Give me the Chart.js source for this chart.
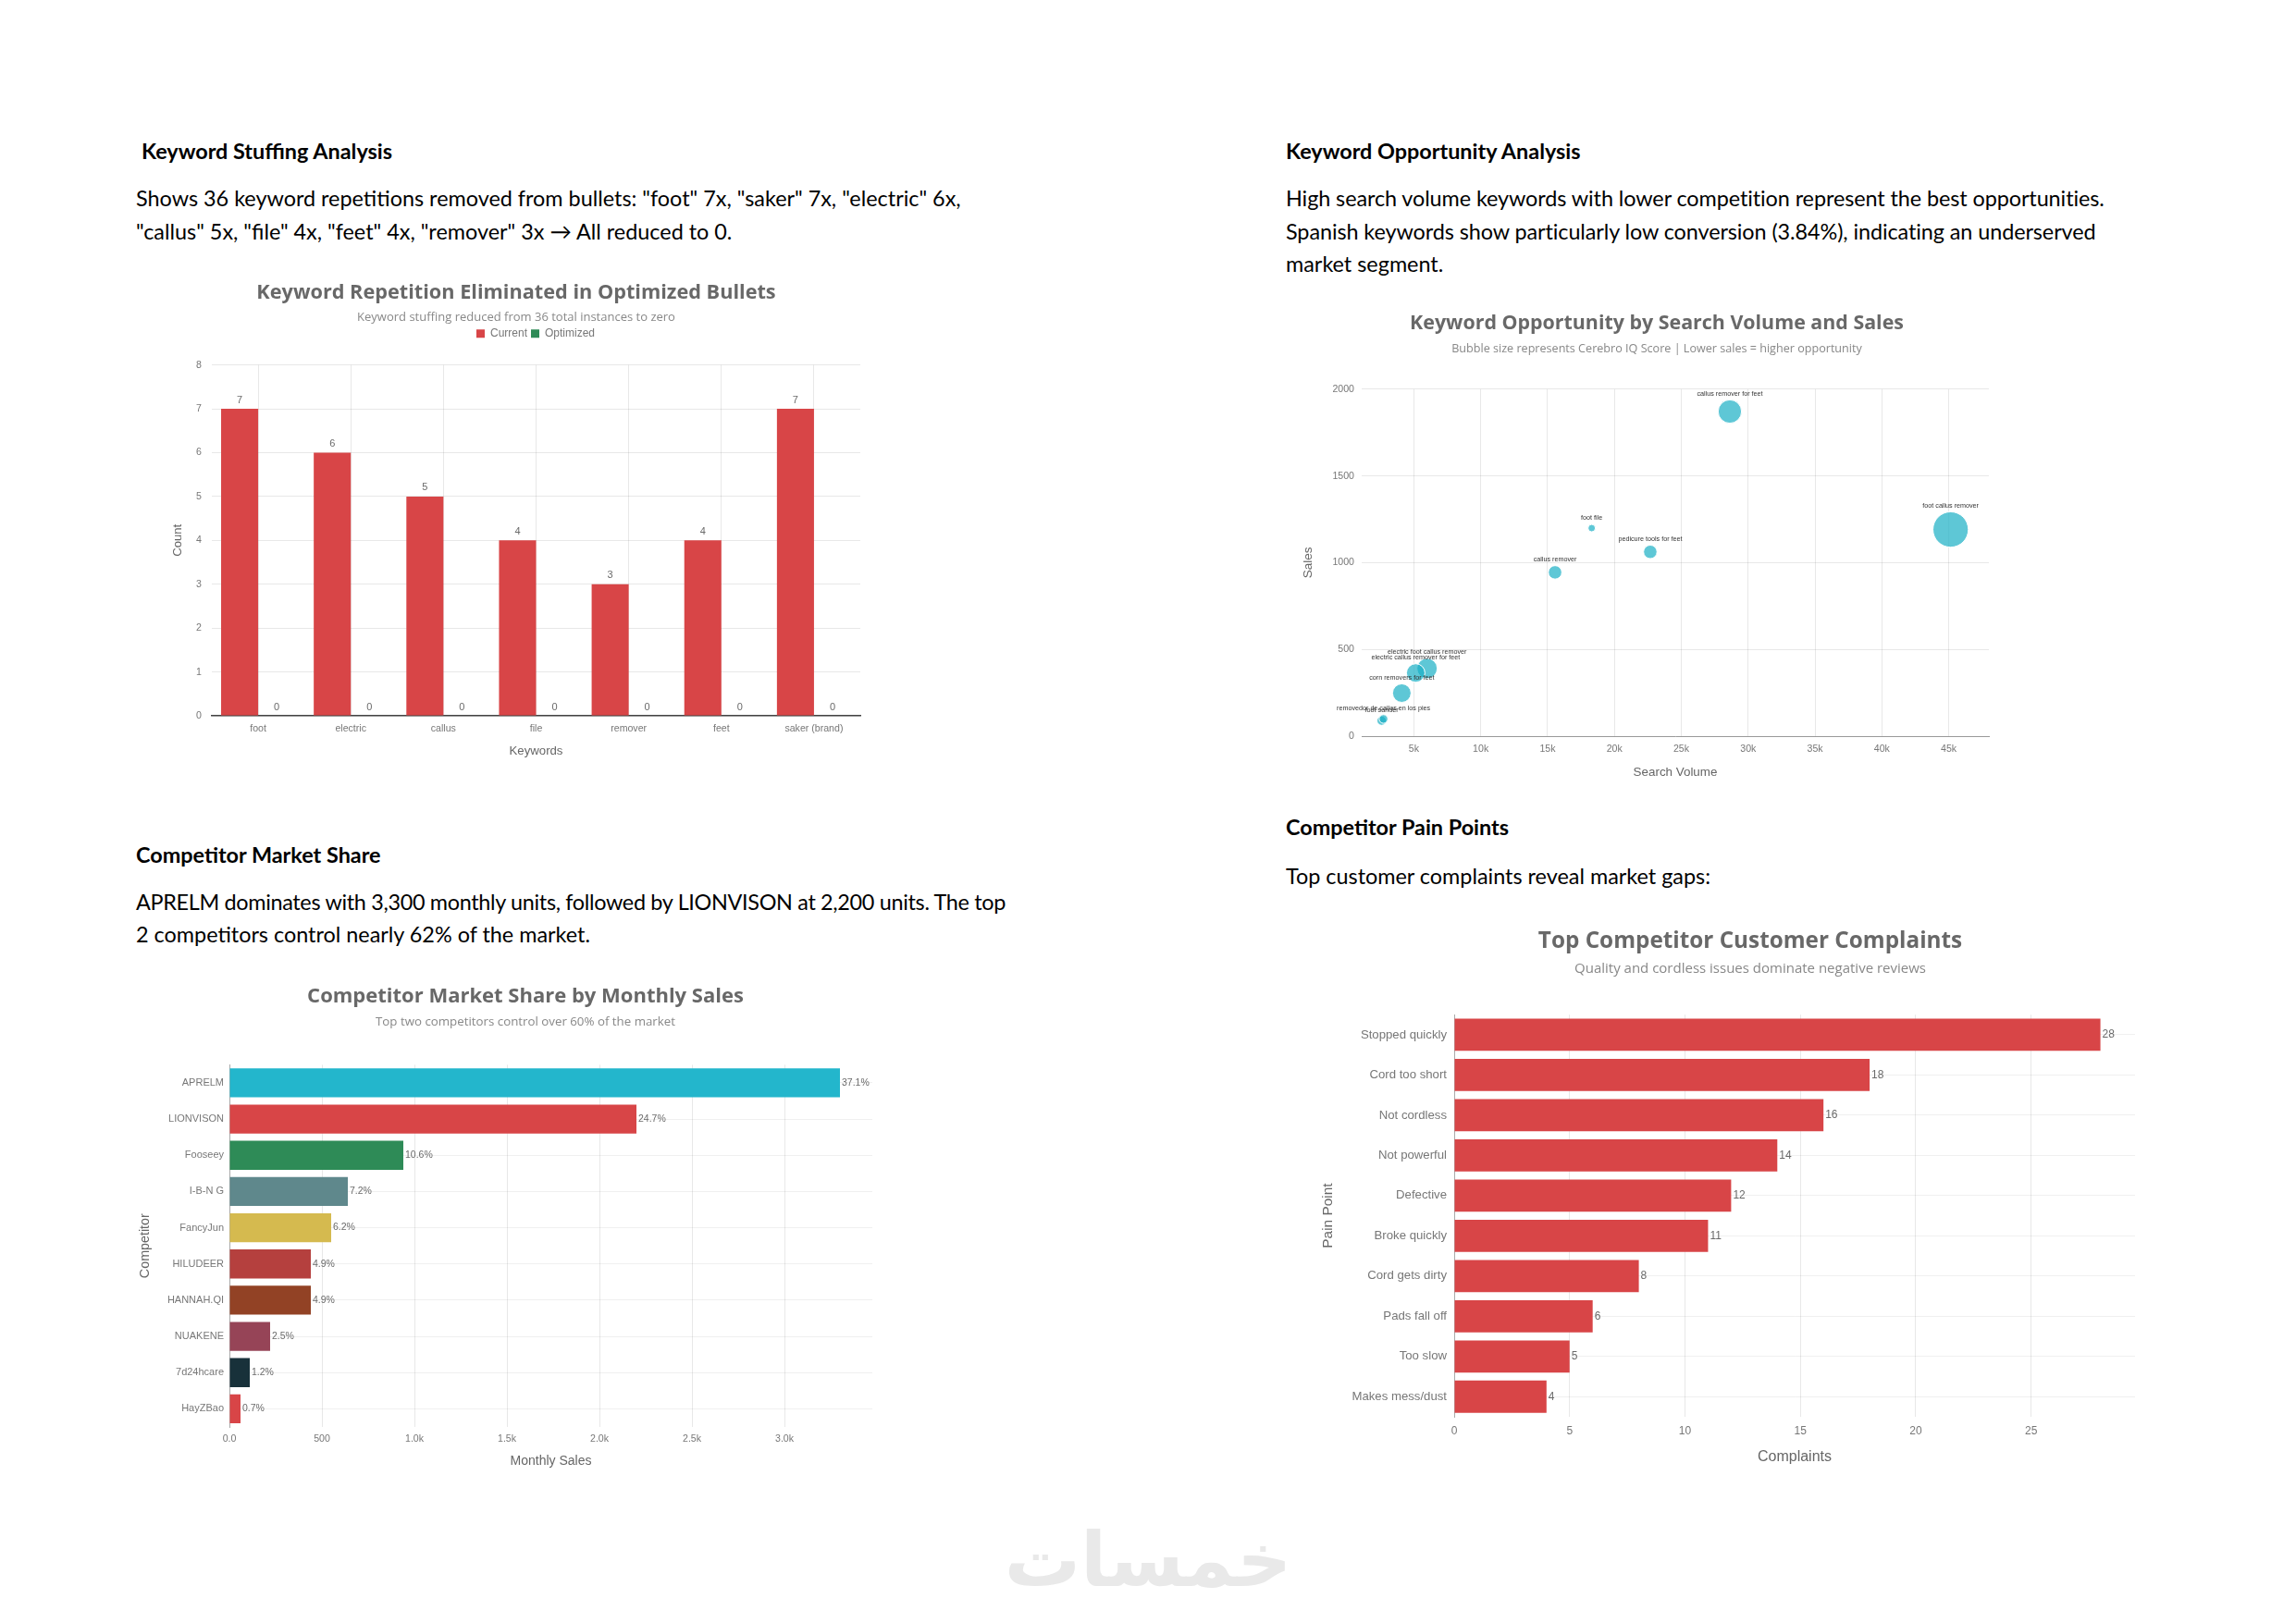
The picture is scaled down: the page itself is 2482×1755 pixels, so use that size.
<!DOCTYPE html>
<html>
<head>
<meta charset="utf-8">
<script src="https://cdn.jsdelivr.net/npm/chart.js@4.4.1/dist/chart.umd.min.js"></script>
<style>
  html, body { margin: 0; padding: 0; background: #fff; }
  body { width: 2482px; height: 1755px; position: relative; overflow: hidden; font-family: Lato, 'Noto Sans', sans-serif; color: #000; }
  .line { position: absolute; font-size: 23.4px; line-height: 36px; white-space: nowrap; }
  .h { font-weight: 700; }
  .tight { letter-spacing: -0.08px; }
  .box { position: absolute; }
  .wm { position: absolute; left: 1041px; top: 1632px; width: 400px; text-align: center; font-family: 'DejaVu Sans', sans-serif; font-weight: 700; font-size: 82px; line-height: 110px; color: #e9e9e9; }
</style>
</head>
<body>

<div class="line h" style="left:153px; top:145px;">Keyword Stuffing Analysis</div>
<div class="line" style="left:147px; top:196px;">Shows 36 keyword repetitions removed from bullets: "foot" 7x, "saker" 7x, "electric" 6x,</div>
<div class="line" style="left:147px; top:232px;">"callus" 5x, "file" 4x, "feet" 4x, "remover" 3x → All reduced to 0.</div>

<div class="line h" style="left:1390px; top:145px;">Keyword Opportunity Analysis</div>
<div class="line tight" style="left:1390px; top:196px;">High search volume keywords with lower competition represent the best opportunities.</div>
<div class="line tight" style="left:1390px; top:232px;">Spanish keywords show particularly low conversion (3.84%), indicating an underserved</div>
<div class="line" style="left:1390px; top:267px;">market segment.</div>

<div class="line h" style="left:147px; top:906px;">Competitor Market Share</div>
<div class="line" style="left:147px; top:957px; letter-spacing:-0.32px;">APRELM dominates with 3,300 monthly units, followed by LIONVISON at 2,200 units. The top</div>
<div class="line" style="left:147px; top:992px;">2 competitors control nearly 62% of the market.</div>

<div class="line h" style="left:1390px; top:876px;">Competitor Pain Points</div>
<div class="line" style="left:1390px; top:929px;">Top customer complaints reveal market gaps:</div>

<div class="box" style="left:180px; top:295px; width:760px; height:525px;"><canvas id="stuffChart"></canvas></div>
<div class="box" style="left:1400px; top:325px; width:780px; height:518px;"><canvas id="bubbleChart"></canvas></div>
<div class="box" style="left:145px; top:1055px; width:844px; height:534px;"><canvas id="shareChart"></canvas></div>
<div class="box" style="left:1420px; top:990px; width:940px; height:595px;"><canvas id="painChart"></canvas></div>

<div class="wm">خمسات</div>

<script>
// keyword stuffing
const keywords = ['foot', 'electric', 'callus', 'file', 'remover', 'feet', 'saker (brand)'];
const currentCounts = [7, 6, 5, 4, 3, 4, 7];
const optimizedCounts = [0, 0, 0, 0, 0, 0, 0];

// keyword opportunity
const oppKeywords = ['callus remover for feet', 'foot callus remover', 'foot file', 'pedicure tools for feet',
  'callus remover', 'electric foot callus remover', 'electric callus remover for feet',
  'corn removers for feet', 'foot sander', 'removedor de callos en los pies'];
const searchVolume = [28630, 45140, 18300, 22680, 15560, 5990, 5140, 4100, 2590, 2730];
const oppSales = [1871, 1191, 1199, 1062, 944, 390, 364, 248, 89, 99];
const iqBubble = [160, 365, 16, 53, 53, 121, 100, 100, 25, 22];
const volumeTicks = [5000, 10000, 15000, 20000, 25000, 30000, 35000, 40000, 45000];

// competitor share
const competitors = ['APRELM', 'LIONVISON', 'Fooseey', 'I-B-N G', 'FancyJun', 'HILUDEER', 'HANNAH.QI', 'NUAKENE', '7d24hcare', 'HayZBao'];
const monthlySales = [3300, 2200, 940, 640, 550, 440, 440, 220, 110, 60];
const salesTicks = [0, 500, 1000, 1500, 2000, 2500, 3000];

// pain points
const painPoints = ['Stopped quickly', 'Cord too short', 'Not cordless', 'Not powerful', 'Defective',
  'Broke quickly', 'Cord gets dirty', 'Pads fall off', 'Too slow', 'Makes mess/dust'];
const complaints = [28, 18, 16, 14, 12, 11, 8, 6, 5, 4];
const complaintTicks = [0, 5, 10, 15, 20, 25];

const RED = '#d84547';
const GREEN = '#2e8b57';
const shareColors = ['#23b6cc', RED, '#2e8b57', '#5f888c', '#d5ba4f', '#b5403e', '#924225', '#964457', '#18313a', RED];
const GRID = 'rgba(0,0,0,0.09)';
const TITLE = '#686868';
const SANS = '"Liberation Sans", Arial, sans-serif';

Chart.defaults.font.family = SANS;
Chart.defaults.color = '#777';
Chart.defaults.animation = false;
Chart.defaults.devicePixelRatio = 1;
Chart.defaults.maintainAspectRatio = false;
Chart.defaults.plugins.tooltip.enabled = false;

function titleOpts(text, size, pad) {
    return { display: true, text: text, color: TITLE, font: { family: '"Open Sans"', weight: '700', size: size }, padding: pad };
}
function subOpts(text, size, pad) {
    return { display: true, text: text, color: '#888', font: { family: '"Open Sans"', size: size }, padding: pad };
}
function axisTitle(text, size, pad) {
    return { display: true, text: text, color: '#666', font: { size: size }, padding: pad };
}
function fixedTicks(values) {
    return s => { s.ticks = values.map(v => ({ value: v })); };
}

// plotly centres its title on the whole figure, chart.js on the padded box
function titleShift(dx) {
    return {
        id: 'titleShift',
        beforeLayout(chart) {
            chart.boxes.forEach(b => {
                if (b._shifted || b === chart.legend || !b.options || typeof b.options.text !== 'string') return;
                const draw = b.draw;
                b.draw = function (area) {
                    this.ctx.save();
                    this.ctx.translate(dx, 0);
                    draw.call(this, area);
                    this.ctx.restore();
                };
                b._shifted = true;
            });
        }
    };
}

// numbers above / beside bars
function barLabels(id, font, fmt) {
    return {
        id: id,
        afterDatasetsDraw(chart) {
            const ctx = chart.ctx;
            ctx.save();
            ctx.font = font;
            ctx.fillStyle = '#6a6a6a';
            chart.data.datasets.forEach((ds, di) => {
                chart.getDatasetMeta(di).data.forEach((el, i) => {
                    const txt = fmt(ds.data[i]);
                    if (chart.options.indexAxis === 'y') {
                        ctx.textAlign = 'left';
                        ctx.textBaseline = 'middle';
                        ctx.fillText(txt, el.x + 2, el.y);
                    } else {
                        ctx.textAlign = 'center';
                        ctx.textBaseline = 'bottom';
                        ctx.fillText(txt, el.x, el.y - 4);
                    }
                });
            });
            ctx.restore();
        }
    };
}

// space under the legend and move it over the plot centre
const legendTweak = {
    id: 'legendTweak',
    beforeLayout(chart) {
        const lg = chart.legend;
        if (lg && !lg._tweaked) {
            const fit = lg.fit;
            const draw = lg.draw;
            lg.fit = function () { fit.call(this); this.height += 18; };
            lg.draw = function (area) {
                this.ctx.save();
                this.ctx.translate(24, 0);
                draw.call(this, area);
                this.ctx.restore();
            };
            lg._tweaked = true;
        }
    }
};

// chart 1
new Chart(document.getElementById('stuffChart'), {
    type: 'bar',
    data: {
        labels: keywords,
        datasets: [
            { label: 'Current', data: currentCounts, backgroundColor: RED },
            { label: 'Optimized', data: optimizedCounts, backgroundColor: GREEN }
        ]
    },
    options: {
        layout: { padding: { left: 0, right: 10, top: 0, bottom: 0 } },
        datasets: { bar: { categoryPercentage: 0.8, barPercentage: 1.0 } },
        plugins: {
            title: titleOpts('Keyword Repetition Eliminated in Optimized Bullets', 21.7, { top: 9, bottom: 5 }),
            subtitle: subOpts('Keyword stuffing reduced from 36 total instances to zero', 13, { top: 0, bottom: 0 }),
            legend: { display: true, labels: { boxWidth: 9, boxHeight: 9, padding: 4, font: { size: 12 }, color: '#777' } }
        },
        scales: {
            x: {
                grid: { color: GRID, offset: false, drawTicks: false },
                border: { display: true, color: '#444', width: 1.5 },
                ticks: { font: { size: 10.6 }, padding: 8 },
                title: axisTitle('Keywords', 13.2, { top: 0, bottom: 0 }),
                afterFit(s) { s.height = 46; }
            },
            y: {
                min: 0, max: 8,
                grid: { color: GRID, drawTicks: false },
                border: { display: false },
                ticks: { stepSize: 1, font: { size: 10.6 }, padding: 11 },
                title: axisTitle('Count', 13, { top: 5, bottom: 0 }),
                afterFit(s) { s.width = 49; }
            }
        }
    },
    plugins: [legendTweak, titleShift(3), barLabels('stuffLabels', '11px ' + SANS, v => String(v))]
});

// chart 2
const bubbleLabels = {
    id: 'bubbleLabels',
    afterDatasetsDraw(chart) {
        const ctx = chart.ctx;
        ctx.save();
        ctx.font = '7.2px ' + SANS;
        ctx.fillStyle = '#333';
        ctx.textAlign = 'center';
        ctx.textBaseline = 'bottom';
        chart.getDatasetMeta(0).data.forEach((el, i) => {
            ctx.fillText(oppKeywords[i], el.x, el.y - el.options.radius - 3);
        });
        ctx.restore();
    }
};

new Chart(document.getElementById('bubbleChart'), {
    type: 'bubble',
    data: {
        datasets: [{
            label: 'Keywords',
            data: oppKeywords.map((k, i) => ({ x: searchVolume[i], y: oppSales[i], r: Math.sqrt(iqBubble[i]) })),
            backgroundColor: 'rgba(25,175,196,0.7)',
            borderColor: '#fff',
            borderWidth: 1
        }]
    },
    options: {
        layout: { padding: { left: 0, right: 30, top: 0, bottom: 0 } },
        plugins: {
            title: titleOpts('Keyword Opportunity by Search Volume and Sales', 21.4, { top: 12, bottom: 7 }),
            subtitle: subOpts('Bubble size represents Cerebro IQ Score | Lower sales = higher opportunity', 12.6, { top: 0, bottom: 36 }),
            legend: { display: false }
        },
        scales: {
            x: {
                type: 'linear', min: 1100, max: 48000,
                grid: { color: GRID, drawTicks: false },
                border: { display: true, color: '#999' },
                ticks: { font: { size: 10.6 }, padding: 8, callback: v => (v / 1000) + 'k' },
                afterBuildTicks: fixedTicks(volumeTicks),
                title: axisTitle('Search Volume', 13.4, { top: 0, bottom: 0 }),
                afterFit(s) { s.height = 47; }
            },
            y: {
                min: 0, max: 2000,
                grid: { color: GRID, drawTicks: false },
                border: { display: false },
                ticks: { stepSize: 500, font: { size: 10.6 }, padding: 8, callback: v => String(v) },
                title: axisTitle('Sales', 13.5, { top: 6, bottom: 0 }),
                afterFit(s) { s.width = 72; }
            }
        }
    },
    plugins: [titleShift(16), bubbleLabels]
});

// chart 3
const totalSales = monthlySales.reduce((a, b) => a + b, 0);
new Chart(document.getElementById('shareChart'), {
    type: 'bar',
    data: {
        labels: competitors,
        datasets: [{ label: 'Monthly Sales', data: monthlySales, backgroundColor: shareColors }]
    },
    options: {
        indexAxis: 'y',
        layout: { padding: { left: 0, right: 46, top: 0, bottom: 0 } },
        datasets: { bar: { categoryPercentage: 0.8, barPercentage: 1.0 } },
        plugins: {
            title: titleOpts('Competitor Market Share by Monthly Sales', 22, { top: 10, bottom: 6 }),
            subtitle: subOpts('Top two competitors control over 60% of the market', 13.3, { top: 0, bottom: 38 }),
            legend: { display: false }
        },
        scales: {
            x: {
                min: 0, max: 3475,
                grid: { color: GRID, drawTicks: false },
                border: { display: false },
                ticks: { font: { size: 10.6 }, padding: 7,
                    callback: v => v === 0 ? '0.0' : (v < 1000 ? String(v) : (v / 1000).toFixed(1) + 'k') },
                afterBuildTicks: fixedTicks(salesTicks),
                title: axisTitle('Monthly Sales', 14, { top: 0, bottom: 0 }),
                afterFit(s) { s.height = 46; }
            },
            y: {
                grid: { color: 'rgba(0,0,0,0.06)', offset: false, drawTicks: false },
                border: { display: true, color: '#aaa' },
                ticks: { font: { size: 11 }, padding: 6 },
                title: axisTitle('Competitor', 14.3, { top: 3, bottom: 0 }),
                afterFit(s) { s.width = 103; }
            }
        }
    },
    plugins: [titleShift(24), barLabels('shareLabels', '10.5px ' + SANS, v => (v / totalSales * 100).toFixed(1) + '%')]
});

// chart 4
new Chart(document.getElementById('painChart'), {
    type: 'bar',
    data: {
        labels: painPoints,
        datasets: [{ label: 'Complaints', data: complaints, backgroundColor: RED }]
    },
    options: {
        indexAxis: 'y',
        layout: { padding: { left: 0, right: 52, top: 0, bottom: 0 } },
        datasets: { bar: { categoryPercentage: 0.8, barPercentage: 1.0 } },
        plugins: {
            title: titleOpts('Top Competitor Customer Complaints', 24.3, { top: 13, bottom: 7 }),
            subtitle: subOpts('Quality and cordless issues dominate negative reviews', 15, { top: 0, bottom: 40 }),
            legend: { display: false }
        },
        scales: {
            x: {
                min: 0, max: 29.5,
                grid: { color: GRID, drawTicks: false },
                border: { display: false },
                ticks: { font: { size: 12 }, padding: 8 },
                afterBuildTicks: fixedTicks(complaintTicks),
                title: axisTitle('Complaints', 16, { top: 0, bottom: 0 }),
                afterFit(s) { s.height = 53; }
            },
            y: {
                grid: { color: 'rgba(0,0,0,0.06)', offset: false, drawTicks: false },
                border: { display: true, color: '#aaa' },
                ticks: { font: { size: 13.2 }, padding: 8 },
                title: axisTitle('Pain Point', 15.4, { top: 7, bottom: 0 }),
                afterFit(s) { s.width = 152; }
            }
        }
    },
    plugins: [titleShift(28), barLabels('painLabels', '12px ' + SANS, v => String(v))]
});
</script>
</body>
</html>
